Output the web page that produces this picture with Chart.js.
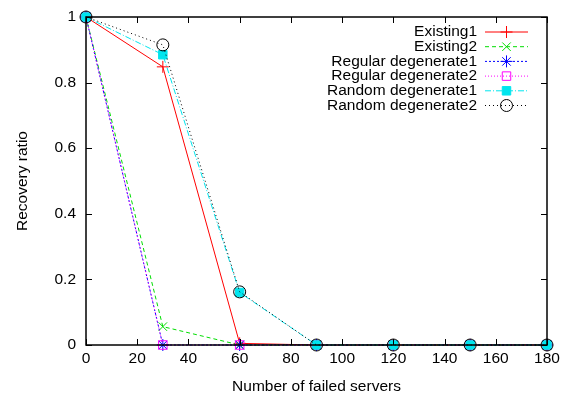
<!DOCTYPE html>
<html>
<head>
<meta charset="utf-8">
<script src="https://cdn.jsdelivr.net/npm/chart.js@4/dist/chart.umd.min.js"></script>
<style>
  html, body { margin: 0; padding: 0; background: #fff; }
  #wrap { width: 571px; height: 396px; }
</style>
</head>
<body>
<div id="wrap"><canvas id="recChart"></canvas></div>
<script>
// valores
const failedServers = [0, 30, 60, 90, 120, 150, 180];
const existing1 = [1, 0.848, 0.005, 0, 0, 0, 0];
const existing2 = [1, 0.056, 0, 0, 0, 0, 0];
const regularDeg1 = [1, 0, 0, 0, 0, 0, 0];
const regularDeg2 = [1, 0, 0, 0, 0, 0, 0];
const randomDeg1 = [1, 0.885, 0.16, 0, 0, 0, 0];
const randomDeg2 = [1, 0.915, 0.162, 0, 0, 0, 0];
const xTicks = [0, 20, 40, 60, 80, 100, 120, 140, 160, 180];
const yTicks = [0, 0.2, 0.4, 0.6, 0.8, 1];

const FONT = "'Liberation Sans', Arial, sans-serif";
const FSIZE = 15.5;

function pts(ys) {
    return failedServers.map((x, i) => ({ x: x, y: ys[i] }));
}

const series = [
    { label: 'Existing1', data: existing1, color: '#ff0000', dash: [], style: 'cross', r: 6, fill: false },
    { label: 'Existing2', data: existing2, color: '#00dd00', dash: [4, 3], style: 'crossRot', r: 6, fill: false },
    { label: 'Regular degenerate1', data: regularDeg1, color: '#0000ff', dash: [2, 2], style: 'star', r: 6, fill: false },
    { label: 'Regular degenerate2', data: regularDeg2, color: '#ff00ff', dash: [1, 2], style: 'rect', r: 6, fill: false },
    { label: 'Random degenerate1', data: randomDeg1, color: '#00e5ee', dash: [6, 2, 1, 2], style: 'rect', r: 6, fill: true },
    { label: 'Random degenerate2', data: randomDeg2, color: '#000000', dash: [1, 3], style: 'circle', r: 6, fill: false }
];

// ticks para dentro, borda completa e legenda estilo gnuplot
const gnuplotFrame = {
    id: 'gnuplotFrame',
    afterDatasetsDraw(chart) {
        const c = chart.ctx;
        const a = chart.chartArea;
        const sx = chart.scales.x, sy = chart.scales.y;
        c.save();
        c.strokeStyle = '#000';
        c.lineWidth = 1;
        c.setLineDash([]);
        c.beginPath();
        xTicks.forEach(v => {
            const px = Math.round(sx.getPixelForValue(v)) + 0.5;
            c.moveTo(px, a.bottom); c.lineTo(px, a.bottom - 6);
            c.moveTo(px, a.top); c.lineTo(px, a.top + 6);
        });
        yTicks.forEach(v => {
            const py = Math.round(sy.getPixelForValue(v)) + 0.5;
            c.moveTo(a.left, py); c.lineTo(a.left + 6, py);
            c.moveTo(a.right, py); c.lineTo(a.right - 6, py);
        });
        c.stroke();
        c.lineWidth = 1.5;
        c.strokeRect(a.left, a.top, a.right - a.left, a.bottom - a.top);

        // legenda
        c.font = FSIZE + 'px ' + FONT;
        c.textAlign = 'right';
        c.textBaseline = 'middle';
        const textRight = a.right - 70;
        const lineL = a.right - 62, lineR = a.right - 19;
        series.forEach((s, i) => {
            const y = a.top + 15 + i * 14.7;
            c.fillStyle = '#000';
            c.fillText(s.label, textRight, y);
            c.strokeStyle = s.color;
            c.lineWidth = 1;
            c.setLineDash(s.dash);
            c.beginPath();
            c.moveTo(lineL, y); c.lineTo(lineR, y);
            c.stroke();
            c.setLineDash([]);
            c.fillStyle = s.fill ? s.color : 'rgba(0,0,0,0)';
            Chart.helpers.drawPoint(c, { pointStyle: s.style, radius: s.r, rotation: 0, borderWidth: 1 }, (lineL + lineR) / 2, y);
        });
        c.restore();
    }
};

const ctx = document.getElementById('recChart').getContext('2d');
const recChart = new Chart(ctx, {
    type: 'line',
    data: {
        datasets: series.map((s, i) => ({
            label: s.label,
            data: pts(s.data),
            borderColor: s.color,
            borderWidth: 1,
            borderDash: s.dash,
            pointStyle: s.style,
            pointRadius: s.r,
            pointBorderColor: s.color,
            pointBorderWidth: 1,
            pointBackgroundColor: s.fill ? s.color : 'rgba(0,0,0,0)',
            tension: 0,
            fill: false,
            clip: false,
            order: series.length - i
        }))
    },
    options: {
        responsive: true,
        maintainAspectRatio: false,
        animation: false,
        layout: { padding: { top: 17, right: 24, left: 0, bottom: 0 } },
        plugins: {
            legend: { display: false },
            tooltip: { enabled: false }
        },
        scales: {
            x: {
                type: 'linear',
                min: 0,
                max: 180,
                afterFit: s => { s.height = 51; },
                afterBuildTicks: s => { s.ticks = xTicks.map(v => ({ value: v })); },
                grid: { display: false, drawTicks: false },
                border: { display: false },
                ticks: {
                    color: '#000',
                    padding: 4,
                    font: { family: FONT, size: FSIZE },
                    callback: v => String(v)
                },
                title: {
                    display: true,
                    text: 'Number of failed servers',
                    color: '#000',
                    font: { family: FONT, size: FSIZE },
                    padding: { top: 2, bottom: 0 }
                }
            },
            y: {
                type: 'linear',
                min: 0,
                max: 1,
                afterFit: s => { s.width = 86; s.paddingTop = 8; s.paddingBottom = 8; },
                afterBuildTicks: s => { s.ticks = yTicks.map(v => ({ value: v })); },
                grid: { display: false, drawTicks: false },
                border: { display: false },
                ticks: {
                    color: '#000',
                    padding: 10,
                    font: { family: FONT, size: FSIZE },
                    callback: v => String(Math.round(v * 10) / 10)
                },
                title: {
                    display: true,
                    text: 'Recovery ratio',
                    color: '#000',
                    font: { family: FONT, size: FSIZE },
                    padding: { top: 13, bottom: 0 }
                }
            }
        }
    },
    plugins: [gnuplotFrame]
});
</script>
</body>
</html>
